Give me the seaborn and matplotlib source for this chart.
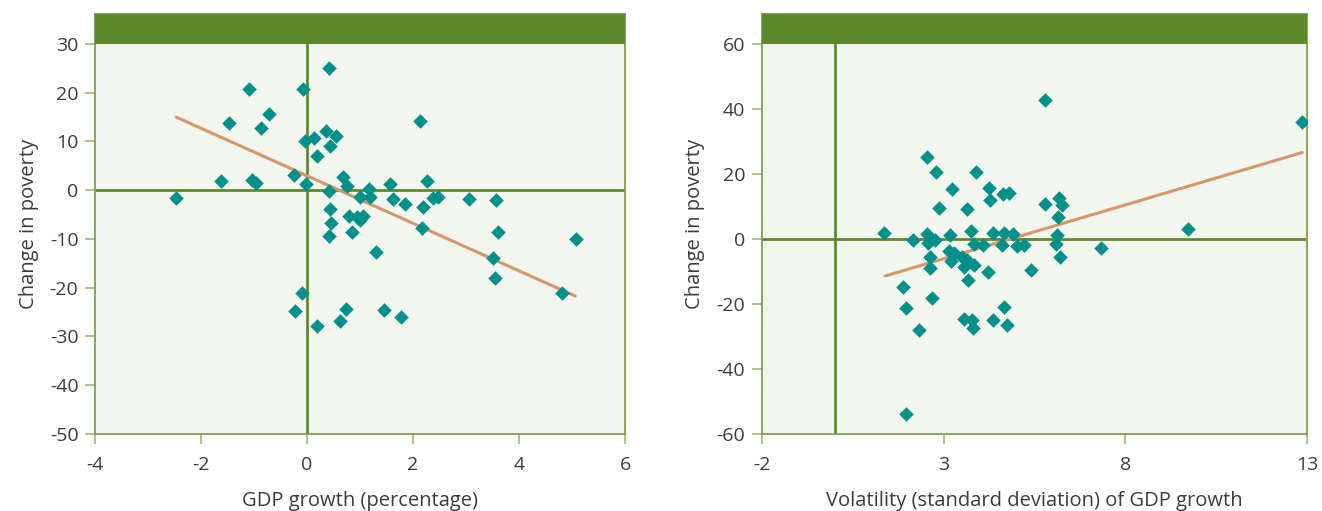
import matplotlib
matplotlib.use("Agg")
import matplotlib.pyplot as plt
import seaborn as sns
import pandas as pd

# GDP growth vs. change in poverty
growth_x = [-2.48, -1.62, -1.47, -1.10, -0.72, -0.86, -1.04, -0.97, -0.25, -0.07,
            -0.04, -0.02, 0.41, 0.13, 0.35, 0.55, 0.43, 0.19, 0.67, 0.76,
            0.41, 2.14, 1.16, 1.57, 2.27, 1.00, 1.18, 1.62, 1.84, 2.19,
            2.38, 2.47, 3.06, 3.57, 0.43, 0.45, 0.42, 0.80, 0.94, 0.99,
            1.05, 0.85, 2.16, 3.60, 1.30, 3.50, 3.55, 5.08, 4.81, -0.09,
            0.74, 0.63, 0.19, 1.46, 1.77, -0.22]
growth_poverty = [-1.5, 1.95, 13.7, 20.8, 15.6, 12.7, 2.1, 1.55, 3.1, 20.8,
                  10.0, 1.3, 25.1, 10.8, 12.2, 11.1, 9.1, 7.0, 2.65, 0.9,
                  -0.15, 14.3, 0.26, 1.2, 1.8, -1.4, -1.45, -1.8, -2.8, -3.4,
                  -1.5, -1.45, -1.8, -2.0, -3.85, -6.65, -9.4, -5.35, -5.55, -6.1,
                  -5.3, -8.6, -7.7, -8.6, -12.7, -14.0, -18.1, -9.9, -21.0, -21.0,
                  -24.4, -26.8, -27.9, -24.6, -26.0, -24.8]
# fitted trend: endpoints over the observed growth range
growth_trend_x = [-2.47, 5.06]
growth_trend_y = [15.0, -21.7]

# Growth volatility vs. change in poverty
volatility_x = [5.79, 2.54, 2.80, 3.89, 3.24, 4.24, 4.28, 4.64, 4.81, 2.88,
                3.64, 5.79, 6.18, 6.26, 6.14, 1.37, 2.16, 2.54, 2.58, 2.77,
                3.17, 3.74, 3.84, 4.09, 4.36, 4.65, 4.90, 4.60, 5.01, 5.21,
                6.13, 6.10, 6.19, 3.14, 3.28, 2.61, 3.20, 3.51, 3.63, 3.56,
                3.84, 2.63, 4.21, 5.40, 3.67, 1.87, 2.67, 1.97, 4.65, 2.31,
                3.57, 3.77, 3.80, 4.36, 4.74, 1.97, 12.87, 9.73, 7.32]
volatility_poverty = [42.8, 25.3, 20.6, 20.6, 15.5, 15.6, 12.0, 13.8, 14.2, 9.5,
                      9.1, 10.8, 12.7, 10.4, 6.7, 1.85, -0.3, 1.4, -1.3, -0.2,
                      1.1, 2.4, -1.5, -1.9, 1.9, 1.85, 1.5, -1.75, -2.05, -1.75,
                      1.3, -1.5, -5.4, -3.7, -4.2, -5.6, -6.7, -5.4, -6.5, -8.7,
                      -8.0, -9.0, -10.1, -9.7, -12.5, -14.7, -18.3, -21.2, -21.0, -28.0,
                      -24.5, -24.9, -27.3, -25.0, -26.4, -53.9, 36.0, 3.2, -2.9]
volatility_trend_x = [1.39, 12.87]
volatility_trend_y = [-11.4, 26.6]

left_xticks = [-4, -2, 0, 2, 4, 6]
left_yticks = [30, 20, 10, 0, -10, -20, -30, -40, -50]
right_xticks = [-2, 3, 8, 13]
right_yticks = [60, 40, 20, 0, -20, -40, -60]

GREEN = "#5f8a2b"
SPINE = "#7fa050"
TICK = "#9cba74"
TEAL = "#00908a"
TREND = "#d4976c"
PANEL_BG = "#f3f6ee"
TEXT = "#3c3c3c"

sns.set_theme(style="white")
plt.rcParams["font.family"] = ["Open Sans", "DejaVu Sans"]

fig = plt.figure(figsize=(13.22, 5.11), dpi=100)

panels = [
    dict(rect=[0.0719, 0.1507, 0.4009, 0.8219], x=growth_x, y=growth_poverty,
         tx=growth_trend_x, ty=growth_trend_y,
         xlim=(-4, 6), ylim=(-50, 36.15), header=30, xticks=left_xticks,
         yticks=left_yticks, xlabel="GDP growth (percentage)"),
    dict(rect=[0.5764, 0.1507, 0.4123, 0.8219], x=volatility_x, y=volatility_poverty,
         tx=volatility_trend_x, ty=volatility_trend_y,
         xlim=(-2, 13), ylim=(-60, 69.2), header=60, xticks=right_xticks,
         yticks=right_yticks, xlabel="Volatility (standard deviation) of GDP growth"),
]

for p in panels:
    ax = fig.add_axes(p["rect"])
    ax.set_facecolor(PANEL_BG)
    df = pd.DataFrame({"x": p["x"], "y": p["y"]})
    trend = pd.DataFrame({"x": p["tx"], "y": p["ty"]})

    # reference lines at zero
    ax.axhline(0, color=GREEN, lw=2, zorder=1)
    ax.axvline(0, color=GREEN, lw=2, zorder=1)

    sns.lineplot(data=trend, x="x", y="y", ax=ax, color=TREND, lw=2.2, zorder=2)
    sns.scatterplot(data=df, x="x", y="y", ax=ax, marker="D", s=55,
                    color=TEAL, edgecolor=TEAL, linewidth=0, zorder=3)

    # solid band across the top of the panel
    ax.axhspan(p["header"], p["ylim"][1], color=GREEN, zorder=4, lw=0)

    ax.set_xlim(*p["xlim"])
    ax.set_ylim(*p["ylim"])
    ax.set_xticks(p["xticks"])
    ax.set_yticks(p["yticks"])
    ax.set_xticklabels([str(t) for t in p["xticks"]])
    ax.set_yticklabels([str(t) for t in p["yticks"]])
    ax.tick_params(axis="x", direction="out", length=7, width=1.2, color=TICK,
                   labelsize=14, labelcolor=TEXT, pad=9, bottom=True)
    ax.tick_params(axis="y", direction="out", length=7, width=1.2, color=TICK,
                   labelsize=14, labelcolor=TEXT, pad=5, left=True)
    for side in ["left", "bottom", "right", "top"]:
        ax.spines[side].set_visible(True)
        ax.spines[side].set_color(SPINE)
        ax.spines[side].set_linewidth(1.3)
    ax.set_xlabel(p["xlabel"], fontsize=14.5, color=TEXT, labelpad=12)
    ax.set_ylabel("Change in poverty", fontsize=14.5, color=TEXT, labelpad=8)
    ax.grid(False)

fig.savefig("out.png", dpi=100, facecolor="white")
